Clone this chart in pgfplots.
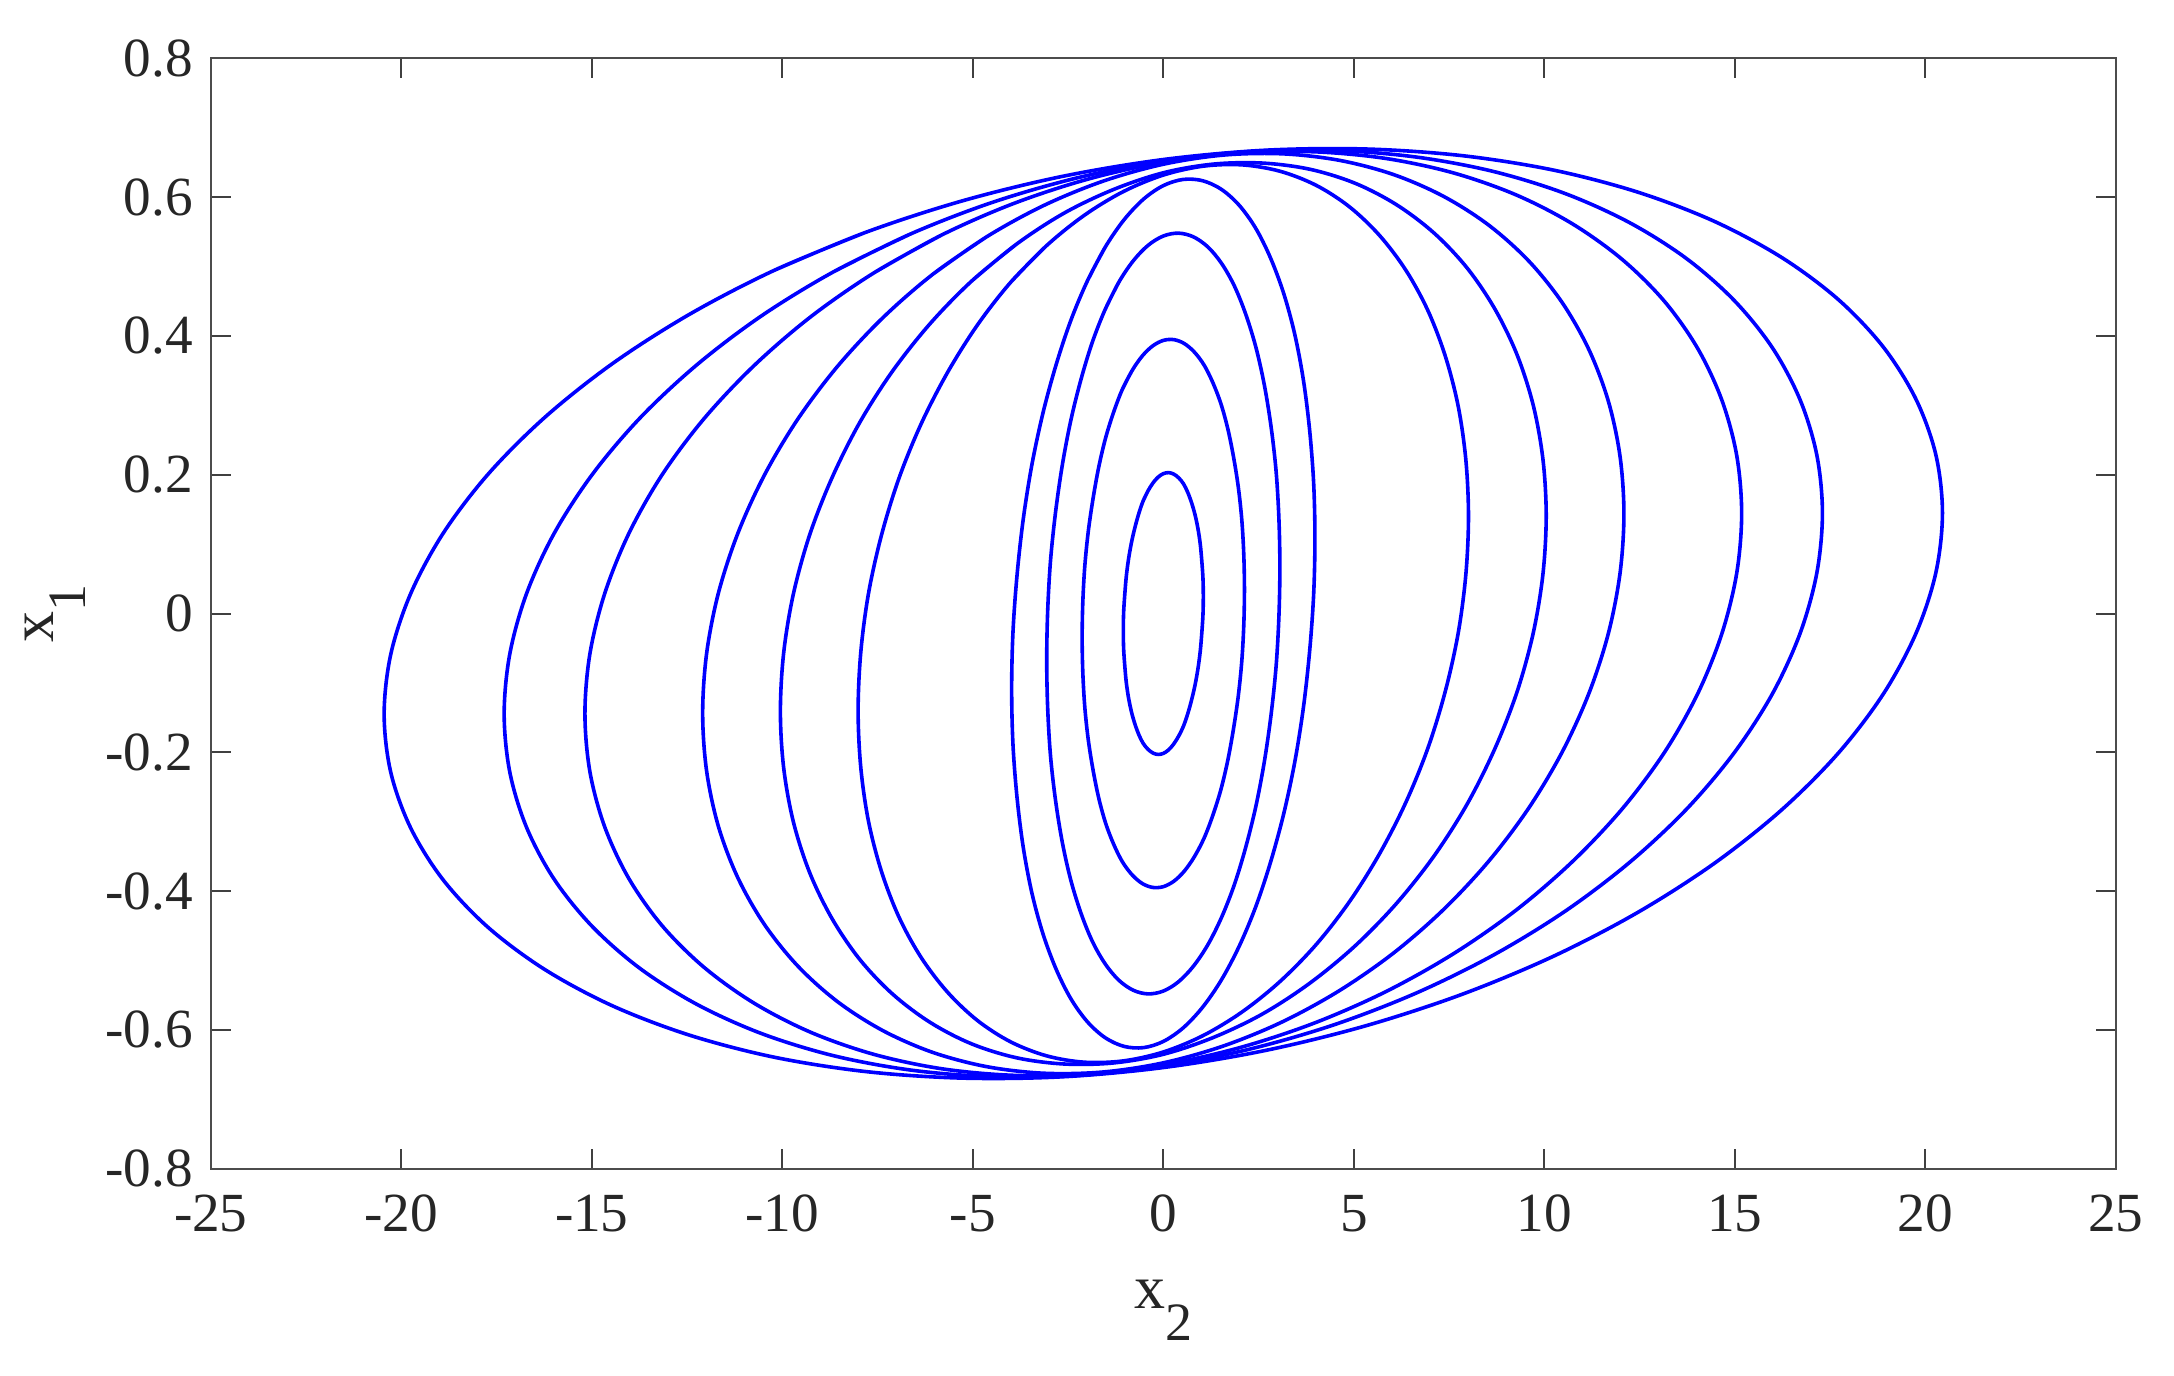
\documentclass[border=0pt]{standalone}
\usepackage{fontspec}
\setmainfont{Liberation Serif}
\usepackage{pgfplots}
\pgfplotsset{compat=1.18}
\pgfplotsset{orb/.style={color=blue, solid, line width=0.9pt, smooth, tension=0.55, mark=none}}
\begin{document}
\begin{tikzpicture}
\path[use as bounding box] (-52.7pt,-51.55pt) rectangle (490.8pt,292.2pt);
\begin{axis}[
  at={(0,0)}, anchor=south west,
  width=476.25pt, height=277.64pt, scale only axis,
  xmin=-25, xmax=25, ymin=-0.8, ymax=0.8,
  xtick={-25,-20,-15,-10,-5,0,5,10,15,20,25},
  xticklabels={-25,-20,-15,-10,-5,0,5,10,15,20,25},
  ytick={-0.8,-0.6,-0.4,-0.2,0,0.2,0.4,0.6,0.8},
  yticklabels={-0.8,-0.6,-0.4,-0.2,0,0.2,0.4,0.6,0.8},
  tick align=inside, major tick length=5pt,
  tick style={black!75, line width=0.5pt},
  axis line style={black!70, line width=0.6pt},
  ticklabel style={font=\fontsize{13.8}{14}\selectfont, text=black!85},
  xticklabel style={yshift=-3pt},
  yticklabel style={xshift=-1pt},
  xlabel={\fontsize{15.5}{16}\selectfont x\raisebox{-8pt}{\fontsize{13.5}{13.5}\selectfont 2}},
  ylabel={\fontsize{15.5}{16}\selectfont x\raisebox{-8pt}{\fontsize{13.5}{13.5}\selectfont 1}},
  xlabel style={at={(axis description cs:0.5,-0.1259)}, anchor=base, text=black!85},
  ylabel style={at={(axis description cs:-0.0827,0.5)}, anchor=base, rotate=0, text=black!85},
]
% curve 1
\addplot[orb] coordinates {
(-0.402,0.1767)(-0.53,0.1621)(-0.639,0.1448)(-0.74,0.1250)(-0.833,0.1030)(-0.91,0.0793)(-0.970,0.0542)(-1.01,0.0283)(-1.041,0.0018)
(-1.05,-0.0247)(-1.041,-0.0508)(-1.01,-0.0760)(-0.970,-0.1000)(-0.91,-0.1222)(-0.833,-0.1423)(-0.74,-0.1600)(-0.639,-0.1749)(-0.53,-0.1869)(-0.402,-0.1956)(-0.27,-0.2010)(-0.137,-0.2030)(0,-0.2015)(0.137,-0.1965)(0.27,-0.1882)(0.402,-0.1767)(0.53,-0.1621)(0.639,-0.1448)(0.74,-0.1250)(0.833,-0.1030)(0.91,-0.0793)(0.970,-0.0542)(1.01,-0.0283)(1.041,-0.0018)
(1.05,0.0247)(1.041,0.0508)(1.01,0.0760)(0.970,0.1000)(0.91,0.1222)(0.833,0.1423)(0.74,0.1600)(0.639,0.1749)(0.53,0.1869)(0.402,0.1956)(0.27,0.2010)(0.137,0.2030)(0,0.2015)(-0.137,0.1965)(-0.27,0.1882)
(-0.402,0.1767)(-0.53,0.1621)};
% curve 2
\addplot[orb] coordinates {
(-0.815,0.3504)(-1.07,0.3236)(-1.297,0.2912)(-1.51,0.2539)(-1.690,0.2122)(-1.84,0.1669)(-1.968,0.1188)(-2.06,0.0686)(-2.112,0.0172)
(-2.13,-0.0344)(-2.112,-0.0855)(-2.06,-0.1351)(-1.968,-0.1824)(-1.84,-0.2266)(-1.690,-0.2669)(-1.51,-0.3026)(-1.297,-0.3331)(-1.07,-0.3580)(-0.815,-0.3767)(-0.55,-0.3890)(-0.278,-0.3946)(0,-0.3935)(0.278,-0.3856)(0.55,-0.3712)(0.815,-0.3504)(1.07,-0.3236)(1.297,-0.2912)(1.51,-0.2539)(1.690,-0.2122)(1.84,-0.1669)(1.968,-0.1188)(2.06,-0.0686)(2.112,-0.0172)
(2.13,0.0344)(2.112,0.0855)(2.06,0.1351)(1.968,0.1824)(1.84,0.2266)(1.690,0.2669)(1.51,0.3026)(1.297,0.3331)(1.07,0.3580)(0.815,0.3767)(0.55,0.3890)(0.278,0.3946)(0,0.3935)(-0.278,0.3856)(-0.55,0.3712)
(-0.815,0.3504)(-1.07,0.3236)};
% curve 3
\addplot[orb] coordinates {
(-1.171,0.4770)(-1.53,0.4376)(-1.863,0.3909)(-2.16,0.3374)(-2.428,0.2781)(-2.65,0.2141)(-2.827,0.1464)(-2.96,0.0763)(-3.034,0.0048)
(-3.06,-0.0668)(-3.034,-0.1372)(-2.96,-0.2053)(-2.827,-0.2698)(-2.65,-0.3298)(-2.428,-0.3841)(-2.16,-0.4318)(-1.863,-0.4722)(-1.53,-0.5044)(-1.171,-0.5281)(-0.79,-0.5427)(-0.399,-0.548)(0,-0.5439)(0.399,-0.5305)(0.79,-0.5081)(1.171,-0.4770)(1.53,-0.4376)(1.863,-0.3909)(2.16,-0.3374)(2.428,-0.2781)(2.65,-0.2141)(2.827,-0.1464)(2.96,-0.0763)(3.034,-0.0048)
(3.06,0.0668)(3.034,0.1372)(2.96,0.2053)(2.827,0.2698)(2.65,0.3298)(2.428,0.3841)(2.16,0.4318)(1.863,0.4722)(1.53,0.5044)(1.171,0.5281)(0.79,0.5427)(0.399,0.548)(0,0.5439)(-0.399,0.5305)(-0.79,0.5081)
(-1.171,0.4770)(-1.53,0.4376)};
% curve 4
\addplot[orb] coordinates {
(-1.523,0.5280)(-1.99,0.4795)(-2.423,0.4229)(-2.81,0.3591)(-3.158,0.2890)(-3.45,0.2141)(-3.677,0.1355)(-3.84,0.0546)(-3.946,-0.0273)
(-3.98,-0.1087)(-3.946,-0.1882)(-3.84,-0.2646)(-3.677,-0.3364)(-3.45,-0.4024)(-3.158,-0.4615)(-2.81,-0.5128)(-2.423,-0.5553)(-1.99,-0.5883)(-1.523,-0.6112)(-1.03,-0.6236)(-0.520,-0.6254)(0,-0.6165)(0.520,-0.5970)(1.03,-0.5673)(1.523,-0.5280)(1.99,-0.4795)(2.423,-0.4229)(2.81,-0.3591)(3.158,-0.2890)(3.45,-0.2141)(3.677,-0.1355)(3.84,-0.0546)(3.946,0.0273)
(3.98,0.1087)(3.946,0.1882)(3.84,0.2646)(3.677,0.3364)(3.45,0.4024)(3.158,0.4615)(2.81,0.5128)(2.423,0.5553)(1.99,0.5883)(1.523,0.6112)(1.03,0.6236)(0.520,0.6254)(0,0.6165)(-0.520,0.5970)(-1.03,0.5673)
(-1.523,0.5280)(-1.99,0.4795)};
% curve 5
\addplot[orb] coordinates {
(-3.065,0.5300)(-4.01,0.4770)(-4.876,0.4159)(-5.66,0.3476)(-6.355,0.2734)(-6.94,0.1946)(-7.400,0.1123)(-7.74,0.0282)(-7.941,-0.0564)
(-8.01,-0.140)(-7.941,-0.2213)(-7.74,-0.2987)(-7.400,-0.3711)(-6.94,-0.4371)(-6.355,-0.4956)(-5.66,-0.5457)(-4.876,-0.5864)(-4.01,-0.6170)(-3.065,-0.6372)(-2.07,-0.6464)(-1.046,-0.6445)(0,-0.6317)(1.046,-0.6080)(2.07,-0.5739)(3.065,-0.5300)(4.01,-0.4770)(4.876,-0.4159)(5.66,-0.3476)(6.355,-0.2734)(6.94,-0.1946)(7.400,-0.1123)(7.74,-0.0282)(7.941,0.0564)
(8.01,0.140)(7.941,0.2213)(7.74,0.2987)(7.400,0.3711)(6.94,0.4371)(6.355,0.4956)(5.66,0.5457)(4.876,0.5864)(4.01,0.6170)(3.065,0.6372)(2.07,0.6464)(1.046,0.6445)(0,0.6317)(-1.046,0.6080)(-2.07,0.5739)
(-3.065,0.5300)(-4.01,0.4770)};
% curve 6
\addplot[orb] coordinates {
(-3.846,0.5325)(-5.03,0.479)(-6.118,0.4178)(-7.11,0.349)(-7.973,0.2747)(-8.70,0.195)(-9.285,0.1128)(-9.71,0.028)(-9.964,-0.0567)
(-10.05,-0.141)(-9.964,-0.2223)(-9.71,-0.300)(-9.285,-0.3728)(-8.70,-0.439)(-7.973,-0.4979)(-7.11,-0.548)(-6.118,-0.5891)(-5.03,-0.620)(-3.846,-0.6401)(-2.60,-0.649)(-1.312,-0.6475)(0,-0.635)(1.312,-0.6108)(2.60,-0.577)(3.846,-0.5325)(5.03,-0.479)(6.118,-0.4178)(7.11,-0.349)(7.973,-0.2747)(8.70,-0.195)(9.285,-0.1128)(9.71,-0.028)(9.964,0.0567)
(10.05,0.141)(9.964,0.2223)(9.71,0.300)(9.285,0.3728)(8.70,0.439)(7.973,0.4979)(7.11,0.548)(6.118,0.5891)(5.03,0.620)(3.846,0.6401)(2.60,0.649)(1.312,0.6475)(0,0.635)(-1.312,0.6108)(-2.60,0.577)
(-3.846,0.5325)(-5.03,0.479)};
% curve 7
\addplot[orb] coordinates {
(-4.627,0.5431)(-6.05,0.4888)(-7.360,0.4262)(-8.55,0.3562)(-9.592,0.2802)(-10.47,0.1994)(-11.170,0.1151)(-11.68,0.0289)(-11.987,-0.0578)
(-12.09,-0.1435)(-11.987,-0.2267)(-11.68,-0.3061)(-11.170,-0.3803)(-10.47,-0.4479)(-9.592,-0.5079)(-8.55,-0.5592)(-7.360,-0.6009)(-6.05,-0.6323)(-4.627,-0.6529)(-3.13,-0.6623)(-1.578,-0.6605)(0,-0.6473)(1.578,-0.6230)(3.13,-0.5881)(4.627,-0.5431)(6.05,-0.4888)(7.360,-0.4262)(8.55,-0.3562)(9.592,-0.2802)(10.47,-0.1994)(11.170,-0.1151)(11.68,-0.0289)(11.987,0.0578)
(12.09,0.1435)(11.987,0.2267)(11.68,0.3061)(11.170,0.3803)(10.47,0.4479)(9.592,0.5079)(8.55,0.5592)(7.360,0.6009)(6.05,0.6323)(4.627,0.6529)(3.13,0.6623)(1.578,0.6605)(0,0.6473)(-1.578,0.6230)(-3.13,0.5881)
(-4.627,0.5431)(-6.05,0.4888)};
% curve 8
\addplot[orb] coordinates {
(-5.809,0.5456)(-7.59,0.4910)(-9.241,0.4281)(-10.73,0.3578)(-12.043,0.2815)(-13.15,0.2003)(-14.025,0.1156)(-14.66,0.0290)(-15.050,-0.0581)
(-15.18,-0.1441)(-15.050,-0.2278)(-14.66,-0.3075)(-14.025,-0.3820)(-13.15,-0.4500)(-12.043,-0.5102)(-10.73,-0.5617)(-9.241,-0.6036)(-7.59,-0.6352)(-5.809,-0.6559)(-3.93,-0.6653)(-1.981,-0.6635)(0,-0.6502)(1.981,-0.6258)(3.93,-0.5907)(5.809,-0.5456)(7.59,-0.4910)(9.241,-0.4281)(10.73,-0.3578)(12.043,-0.2815)(13.15,-0.2003)(14.025,-0.1156)(14.66,-0.0290)(15.050,0.0581)
(15.18,0.1441)(15.050,0.2278)(14.66,0.3075)(14.025,0.3820)(13.15,0.4500)(12.043,0.5102)(10.73,0.5617)(9.241,0.6036)(7.59,0.6352)(5.809,0.6559)(3.93,0.6653)(1.981,0.6635)(0,0.6502)(-1.981,0.6258)(-3.93,0.5907)
(-5.809,0.5456)(-7.59,0.4910)};
% curve 9
\addplot[orb] coordinates {
(-6.620,0.5472)(-8.65,0.4925)(-10.532,0.4294)(-12.23,0.3589)(-13.725,0.2823)(-14.98,0.2009)(-15.983,0.1160)(-16.71,0.0291)(-17.152,-0.0582)
(-17.30,-0.1446)(-17.152,-0.2285)(-16.71,-0.3084)(-15.983,-0.3832)(-14.98,-0.4513)(-13.725,-0.5117)(-12.23,-0.5634)(-10.532,-0.6054)(-8.65,-0.6371)(-6.620,-0.6578)(-4.48,-0.6673)(-2.258,-0.6655)(0,-0.6522)(2.258,-0.6277)(4.48,-0.5925)(6.620,-0.5472)(8.65,-0.4925)(10.532,-0.4294)(12.23,-0.3589)(13.725,-0.2823)(14.98,-0.2009)(15.983,-0.1160)(16.71,-0.0291)(17.152,0.0582)
(17.30,0.1446)(17.152,0.2285)(16.71,0.3084)(15.983,0.3832)(14.98,0.4513)(13.725,0.5117)(12.23,0.5634)(10.532,0.6054)(8.65,0.6371)(6.620,0.6578)(4.48,0.6673)(2.258,0.6655)(0,0.6522)(-2.258,0.6277)(-4.48,0.5925)
(-6.620,0.5472)(-8.65,0.4925)};
% curve 10
\addplot[orb] coordinates {
(-7.826,0.5489)(-10.23,0.4940)(-12.449,0.4307)(-14.46,0.3600)(-16.224,0.2831)(-17.71,0.2015)(-18.893,0.1163)(-19.75,0.0292)(-20.275,-0.0584)
(-20.45,-0.1450)(-20.275,-0.2291)(-19.75,-0.3093)(-18.893,-0.3843)(-17.71,-0.4527)(-16.224,-0.5132)(-14.46,-0.5651)(-12.449,-0.6072)(-10.23,-0.6390)(-7.826,-0.6598)(-5.29,-0.6693)(-2.669,-0.6675)(0,-0.6541)(2.669,-0.6296)(5.29,-0.5943)(7.826,-0.5489)(10.23,-0.4940)(12.449,-0.4307)(14.46,-0.3600)(16.224,-0.2831)(17.71,-0.2015)(18.893,-0.1163)(19.75,-0.0292)(20.275,0.0584)
(20.45,0.1450)(20.275,0.2291)(19.75,0.3093)(18.893,0.3843)(17.71,0.4527)(16.224,0.5132)(14.46,0.5651)(12.449,0.6072)(10.23,0.6390)(7.826,0.6598)(5.29,0.6693)(2.669,0.6675)(0,0.6541)(-2.669,0.6296)(-5.29,0.5943)
(-7.826,0.5489)(-10.23,0.4940)};
\end{axis}
\end{tikzpicture}
\end{document}
